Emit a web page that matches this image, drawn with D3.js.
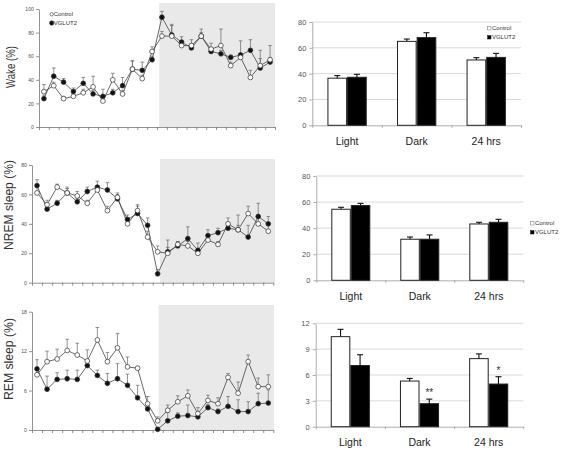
<!DOCTYPE html>
<html><head><meta charset="utf-8">
<script src="https://cdn.jsdelivr.net/npm/d3@7"></script>
<style>body{margin:0;background:#fff}svg{display:block}text{font-family:"Liberation Sans",Arial,sans-serif}</style>
</head><body><svg id="c" width="563" height="454"></svg>
<script>
// ---------- DATA ----------
const hours = d3.range(1, 25);
const groups = ["Control", "VGLUT2"];

const wakeControl    = [30,35,24,26,29,34,22,40,28,49,41,64,77,77,69,69,77,66,69,52,59,42,52,57];
const wakeControlErr = [6,3,2,2,3,9,3,5.5,3,7,3,4,4,10,3,5,6,5,14,3,3,6,6,12];
const wakeVglut      = [24,43,38,30,37,28,26,29,35,49,48,57,93,78,72,67,77,64,62,59,61,65,50,55];
const wakeVglutErr   = [3,7,3,3,5,3,6,3,7,7,7,3,5,8,4.5,3,3,3,3,2,12,9,15,4];

const nremControl    = [61,53,65,61,59,54,63,49,58,40,49,31,21,20,26,25,20,29,26,40,36,47,40,35];
const nremControlErr = [4,3,2,3,3,2,2,3,3,3,4,4,4,4,2,3,3,3,2,4,10,5,5,4];
const nremVglut      = [66,50,54,61,55,62,65,63,57,43,47,39,6,21,25,30,22,32,34,37,36,31,45,40];
const nremVglutErr   = [4,4,2,4,2,3,4,5,3,3,5,5,3,8,3,8,5,4,3,2,3,8,9,5];

const remControl    = [8.4,10.4,10.8,12.1,11.4,10.5,13.7,10.4,12.5,9.6,9.4,4.0,1.4,3.0,4.3,5.2,2.5,4.5,4.0,8.0,5.6,10.4,6.6,6.6];
const remControlErr = [1.0,1.6,1.5,1.7,1.8,1.7,1.9,1.4,2.2,1.5,0.3,1.1,0.6,0.8,0.9,0.9,0.9,0.8,0.9,0.6,1.7,1.0,1.3,1.8];
const remVglut      = [9.3,6.2,7.7,7.8,7.7,9.8,8.3,7.1,7.8,6.8,4.9,3.2,0.1,1.4,2.1,2.2,2.0,3.4,2.8,3.6,2.8,2.8,4.0,4.1];
const remVglutErr   = [1.4,2.0,1.0,1.3,1.4,0.6,0.8,1.5,2.3,1.7,1.9,0.6,0.3,1.3,0.5,1.6,0.4,0.5,0.4,1.5,1.8,1.5,1.6,2.0];

const wakeTicks = [0,20,40,60,80,100];
const nremTicks = [0,20,40,60,80];
const remTicks  = [0,6,12,18];

const barCategories = ["Light", "Dark", "24 hrs"];
const wakeBarControl    = [36.5, 65.0, 50.6];
const wakeBarControlErr = [2.0, 1.8, 1.8];
const wakeBarVglut      = [37.2, 67.9, 52.6];
const wakeBarVglutErr   = [2.3, 3.8, 3.1];

const nremBarControl    = [54.5, 31.5, 43.2];
const nremBarControlErr = [1.5, 1.7, 1.3];
const nremBarVglut      = [57.3, 31.5, 44.5];
const nremBarVglutErr   = [1.7, 3.3, 2.3];

const remBarControl    = [10.45, 5.3, 7.9];
const remBarControlErr = [0.85, 0.3, 0.55];
const remBarVglut      = [7.1, 2.67, 4.95];
const remBarVglutErr   = [1.25, 0.53, 0.85];
const remBarSig        = ["", "**", "*"];

const wakeBarTicks = [0,20,40,60,80];
const nremBarTicks = [0,20,40,60,80];
const remBarTicks  = [0,3,6,9,12];

// ---------- DRAW ----------
const svg = d3.select("#c");

function styleAxis(a, color, fs) {
  a.select(".domain").attr("stroke", color).attr("stroke-width", 0.8);
  a.selectAll(".tick line").attr("stroke", color).attr("stroke-width", 0.8);
  a.selectAll(".tick text").attr("fill", "#555").attr("font-size", fs)
    .attr("font-family", '"Liberation Sans",Arial,sans-serif');
}

function lineChart(cfg) {
  const g = svg.append("g");
  const x = d3.scaleLinear().domain([0, 24]).range([cfg.x0, cfg.x1]);
  const y = d3.scaleLinear().domain([0, cfg.max]).range([cfg.yb, cfg.yt]);

  g.append("rect")
    .attr("x", x(cfg.shade)).attr("y", cfg.shadeTop)
    .attr("width", x(cfg.shadeEnd) - x(cfg.shade))
    .attr("height", cfg.yb - cfg.shadeTop)
    .attr("fill", "#e9e9e9");

  const ya = g.append("g").attr("transform", `translate(${cfg.x0},0)`)
    .call(d3.axisLeft(y).tickValues(cfg.ticks).tickSize(3).tickSizeOuter(0).tickPadding(2));
  styleAxis(ya, "#777", 5.2);
  const xa = g.append("g").attr("transform", `translate(0,${cfg.yb})`)
    .call(d3.axisBottom(x).tickValues(d3.range(25)).tickSize(3).tickSizeOuter(0).tickFormat(""));
  styleAxis(xa, "#777", 5);

  g.append("text")
    .attr("transform", `translate(${cfg.labX},${cfg.labY}) rotate(-90)`)
    .attr("text-anchor", "middle").attr("font-size", cfg.labFs)
    .attr("textLength", cfg.labLen).attr("lengthAdjust", "spacingAndGlyphs")
    .attr("fill", "#333").text(cfg.label);

  const series = [
    {vals: cfg.vglut, err: cfg.vglutErr, fill: "#111"},
    {vals: cfg.control, err: cfg.controlErr, fill: "#fff"}
  ];
  series.forEach(s => {
    const eb = g.append("g").attr("stroke", "#666").attr("stroke-width", 0.7);
    s.vals.forEach((v, i) => {
      const cx = x(i + 0.5), y1 = y(v), y2 = y(v + s.err[i]);
      eb.append("line").attr("x1", cx).attr("x2", cx).attr("y1", y1).attr("y2", y2);
      eb.append("line").attr("x1", cx - 1.8).attr("x2", cx + 1.8).attr("y1", y2).attr("y2", y2);
    });
  });
  const line = d3.line().x((d, i) => x(i + 0.5)).y(d => y(d));
  series.forEach(s => {
    g.append("path").datum(s.vals).attr("d", line)
      .attr("fill", "none").attr("stroke", "#444").attr("stroke-width", 0.8);
  });
  series.forEach(s => {
    g.append("g").selectAll("circle").data(s.vals).join("circle")
      .attr("cx", (d, i) => x(i + 0.5)).attr("cy", d => y(d))
      .attr("r", 2.4).attr("fill", s.fill).attr("stroke", "#333").attr("stroke-width", 0.7);
  });

  if (cfg.legend) {
    const lg = g.append("g");
    groups.forEach((name, k) => {
      const yy = cfg.legend[1] + k * 8.7;
      lg.append("circle").attr("cx", cfg.legend[0]).attr("cy", yy)
        .attr("r", k === 0 ? 1.7 : 2.2)
        .attr("fill", k === 0 ? "#fff" : "#111").attr("stroke", "#333").attr("stroke-width", 0.6);
      lg.append("text").attr("x", cfg.legend[0] + 2).attr("y", yy + 2.1)
        .attr("font-size", 6).attr("fill", "#333").text(name);
    });
  }
}

function barChart(cfg) {
  const g = svg.append("g");
  const x = d3.scaleBand().domain(barCategories).range([cfg.x0, cfg.x1])
    .paddingInner(0.435).paddingOuter(0.2175);
  const xs = d3.scaleBand().domain(groups).range([0, x.bandwidth()]);
  const xb = d3.scaleLinear().domain([0, 3]).range([cfg.x0, cfg.x1]);
  const y = d3.scaleLinear().domain([0, cfg.max]).range([cfg.yb, cfg.yt]);

  g.append("g").selectAll("line").data(cfg.ticks.filter(t => t > 0)).join("line")
    .attr("x1", cfg.x0).attr("x2", cfg.x1).attr("y1", d => y(d)).attr("y2", d => y(d))
    .attr("stroke", "#cfcfcf").attr("stroke-width", 0.8);

  const ya = g.append("g").attr("transform", `translate(${cfg.x0},0)`)
    .call(d3.axisLeft(y).tickValues(cfg.ticks).tickSize(3).tickSizeOuter(0).tickPadding(3));
  styleAxis(ya, "#999", 7.5);
  const xa = g.append("g").attr("transform", `translate(0,${cfg.yb})`)
    .call(d3.axisBottom(xb).tickValues([0, 1, 2, 3]).tickSize(2.5).tickSizeOuter(0).tickFormat(""));
  styleAxis(xa, "#999", 7);

  const sets = [
    {vals: cfg.control, err: cfg.controlErr, fill: "#fff", key: "Control"},
    {vals: cfg.vglut, err: cfg.vglutErr, fill: "#000", key: "VGLUT2"}
  ];
  sets.forEach(s => {
    g.append("g").selectAll("rect").data(s.vals).join("rect")
      .attr("x", (d, i) => x(barCategories[i]) + xs(s.key) + 0.5)
      .attr("width", xs.bandwidth() - 1)
      .attr("y", d => y(d)).attr("height", d => y(0) - y(d))
      .attr("fill", s.fill).attr("stroke", "#222").attr("stroke-width", 1);
    const eb = g.append("g").attr("stroke", "#111").attr("stroke-width", 1.1);
    s.vals.forEach((v, i) => {
      const cx = x(barCategories[i]) + xs(s.key) + xs.bandwidth() / 2;
      const y2 = y(v + s.err[i]);
      eb.append("line").attr("x1", cx).attr("x2", cx).attr("y1", y(v)).attr("y2", y2);
      eb.append("line").attr("x1", cx - 3).attr("x2", cx + 3).attr("y1", y2).attr("y2", y2);
    });
  });

  if (cfg.sig) {
    g.append("g").selectAll("text").data(cfg.sig).join("text")
      .attr("x", (d, i) => x(barCategories[i]) + xs("VGLUT2") + xs.bandwidth() / 2)
      .attr("y", (d, i) => y(cfg.vglut[i] + cfg.vglutErr[i]) - 3)
      .attr("text-anchor", "middle").attr("font-size", 10).attr("fill", "#333")
      .text(d => d);
  }

  g.append("g").selectAll("text").data(barCategories).join("text")
    .attr("x", d => x(d) + x.bandwidth() / 2).attr("y", cfg.labY)
    .attr("text-anchor", "middle").attr("font-size", 10.5).attr("fill", "#222")
    .text(d => d);

  if (cfg.legend) {
    groups.forEach((name, k) => {
      const yy = cfg.legend[1] + k * 9;
      g.append("rect").attr("x", cfg.legend[0]).attr("y", yy).attr("width", 3.3).attr("height", 3.3)
        .attr("fill", k === 0 ? "#fff" : "#000").attr("stroke", k === 0 ? "#777" : "#000").attr("stroke-width", 0.5);
      g.append("text").attr("x", cfg.legend[0] + 4.2).attr("y", yy + 3.4)
        .attr("font-size", 6).attr("fill", "#333").text(name);
    });
  }
}

lineChart({x0: 39, x1: 275, yt: 9, yb: 127, max: 100, ticks: wakeTicks,
  shade: 12.23, shadeEnd: 24, shadeTop: 3,
  control: wakeControl, controlErr: wakeControlErr, vglut: wakeVglut, vglutErr: wakeVglutErr,
  label: "Wake (%)", labX: 14.8, labY: 67, labFs: 12.5, labLen: 42, legend: [51.7, 14.3]});

lineChart({x0: 32, x1: 273.3, yt: 165, yb: 282.7, max: 80, ticks: nremTicks,
  shade: 12.73, shadeEnd: 24.17, shadeTop: 159,
  control: nremControl, controlErr: nremControlErr, vglut: nremVglut, vglutErr: nremVglutErr,
  label: "NREM sleep (%)", labX: 13, labY: 205, labFs: 12, labLen: 90});

lineChart({x0: 32, x1: 273.3, yt: 311.7, yb: 430, max: 18, ticks: remTicks,
  shade: 12.6, shadeEnd: 24.07, shadeTop: 305,
  control: remControl, controlErr: remControlErr, vglut: remVglut, vglutErr: remVglutErr,
  label: "REM sleep (%)", labX: 13, labY: 359, labFs: 12, labLen: 82});

barChart({x0: 312.3, x1: 521, yt: 22, yb: 125.3, max: 80, ticks: wakeBarTicks,
  control: wakeBarControl, controlErr: wakeBarControlErr, vglut: wakeBarVglut, vglutErr: wakeBarVglutErr,
  labY: 145, legend: [487.7, 26.7]});

barChart({x0: 316.3, x1: 523.3, yt: 176, yb: 280.3, max: 80, ticks: nremBarTicks,
  control: nremBarControl, controlErr: nremBarControlErr, vglut: nremBarVglut, vglutErr: nremBarVglutErr,
  labY: 299.5, legend: [530.7, 221.7]});

barChart({x0: 315.7, x1: 523.3, yt: 323.3, yb: 426.7, max: 12, ticks: remBarTicks,
  control: remBarControl, controlErr: remBarControlErr, vglut: remBarVglut, vglutErr: remBarVglutErr,
  labY: 445.5, sig: remBarSig});
</script></body></html>
